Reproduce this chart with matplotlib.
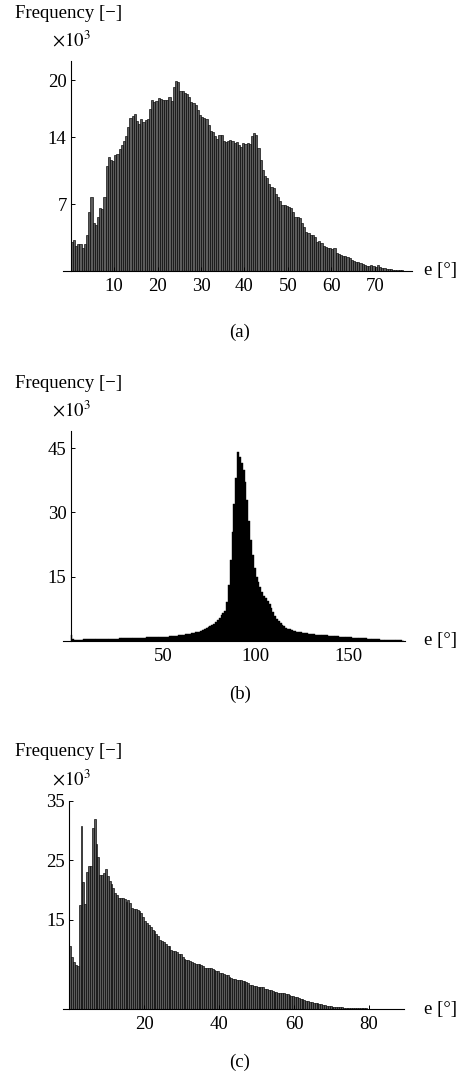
import numpy as np
import matplotlib
matplotlib.use("Agg")
import matplotlib.pyplot as plt

plt.rcParams['font.family'] = ['Liberation Serif', 'DejaVu Serif']
plt.rcParams['mathtext.fontset'] = 'stix'

# (a) histogram, 0.5 degree bins, values in thousands
freq_a = [3.07, 3.2, 2.62, 2.8, 2.85, 2.45, 2.8, 3.78, 6.2, 7.73, 5.0, 4.83, 5.7, 6.57, 6.45, 7.8,
          11.05, 11.9, 11.65, 11.5, 12.17, 12.3, 12.77, 13.2, 13.57, 14.1, 15.1, 16.0, 16.26, 16.5,
          15.7, 15.4, 15.9, 15.6, 15.85, 15.9, 16.97, 17.87, 17.7, 17.8, 18.1, 18.0, 17.87, 17.9,
          17.87, 18.2, 17.8, 19.27, 19.87, 19.8, 18.9, 18.85, 18.7,
          18.5, 18.2, 17.7, 17.6, 17.35, 16.9, 16.3, 16.1, 16.05, 15.95, 15.25, 14.7, 14.6, 14.1,
          13.8, 14.27, 14.2, 13.57, 13.5, 13.57, 13.75, 13.6, 13.4, 13.5, 13.2, 13.0, 13.4, 13.3,
          13.4, 13.35, 14.1, 14.5, 14.27, 12.87, 11.65, 10.6, 9.97, 9.73, 9.13, 8.78, 8.7, 8.08,
          7.73, 7.38, 6.93, 6.9, 6.85, 6.68, 6.65, 6.2, 5.63, 5.63,
          5.6, 5.0, 4.65, 4.06, 4.03, 3.78, 3.74, 3.6, 3.07, 3.1, 2.97, 2.62, 2.48, 2.4, 2.45,
          2.27, 2.4, 1.86, 1.8, 1.68, 1.6, 1.6, 1.43, 1.33, 1.15, 1.1, 0.98, 0.9, 0.8, 0.75,
          0.63, 0.55, 0.55, 0.63, 0.52, 0.45, 0.63, 0.45, 0.28, 0.28, 0.2, 0.2, 0.17, 0.15,
          0.15, 0.12, 0.12, 0.1]

# (b) histogram, 1 degree bins
freq_b = [1.3, 0.4, 0.35, 0.35, 0.35, 0.35, 0.35, 0.4, 0.4, 0.4,
          0.4, 0.4, 0.4, 0.4, 0.45, 0.45, 0.45, 0.45, 0.5, 0.5,
          0.5, 0.5, 0.5, 0.55, 0.55, 0.55, 0.6, 0.6, 0.6, 0.6,
          0.65, 0.65, 0.65, 0.7, 0.7, 0.7, 0.75, 0.75, 0.8, 0.8,
          0.8, 0.85, 0.85, 0.9, 0.9, 0.9, 0.95, 1.0, 1.0, 1.05,
          1.0, 1.0, 1.05, 1.1, 1.1, 1.15, 1.2, 1.25, 1.3, 1.35,
          1.4, 1.5, 1.55, 1.6, 1.7, 1.8, 1.9, 2.0, 2.1, 2.2,
          2.4, 2.6, 2.8, 3.0, 3.2, 3.4, 3.7, 4.0, 4.4, 4.9,
          5.4, 6.0, 6.6, 7.0, 9.0, 13.0, 19.0, 25.5, 32.0, 38.0,
          44.2, 43.0, 41.5, 40.0, 37.0, 33.0, 28.0, 23.5, 20.0, 17.0,
          15.0, 13.8, 12.6, 11.5, 10.6, 10.0, 9.4, 8.7, 7.8, 6.8,
          5.9, 5.2, 4.6, 4.2, 3.8, 3.4, 3.1, 2.9, 2.7, 2.5,
          2.4, 2.3, 2.2, 2.1, 2.0, 1.9, 1.85, 1.8, 1.7, 1.65,
          1.6, 1.55, 1.5, 1.45, 1.4, 1.4, 1.35, 1.3, 1.3, 1.25,
          1.2, 1.2, 1.15, 1.1, 1.1, 1.05, 1.0, 1.0, 0.95, 0.9,
          0.9, 0.85, 0.8, 0.8, 0.75, 0.7, 0.7, 0.65, 0.6, 0.6,
          0.55, 0.5, 0.5, 0.45, 0.45, 0.4, 0.4, 0.35, 0.35, 0.3,
          0.3, 0.3, 0.25, 0.25, 0.2, 0.2, 0.2, 0.15, 0.15, 0.1]

# (c) histogram, 0.5 degree bins
freq_c = [10.6, 8.8, 7.9, 7.4, 7.2,
          17.47, 30.8, 21.35, 17.7, 23.1, 24.05, 24.05, 30.4, 31.9, 27.8, 25.5, 22.5, 22.5, 22.8,
          23.5, 22.36, 21.5, 20.96, 20.3, 19.56, 19.1, 18.6, 18.6, 18.7, 18.5, 18.0, 18.3, 17.9,
          17.0, 16.85, 16.9, 16.7, 16.46, 16.2, 15.45, 14.8, 14.5, 14.2, 13.76, 13.37, 13.1, 12.7,
          12.25, 11.57, 11.5, 11.3, 11.0, 10.7, 10.6, 10.0, 9.8,
          9.7, 9.6, 9.33, 9.2, 8.77, 8.5, 8.3, 8.3, 8.13, 7.9, 7.75, 7.6, 7.6, 7.6, 7.47, 7.2,
          7.0, 6.9, 6.9, 7.0, 6.74, 6.63, 6.5, 6.35, 6.17, 6.17, 5.9, 5.8, 5.7, 5.5, 5.3, 5.1,
          5.05, 4.95, 4.95, 4.95, 4.8, 4.67, 4.55, 4.38, 4.1, 4.1, 3.95, 3.95, 3.7, 3.7, 3.7,
          3.8, 3.37, 3.37, 3.25, 3.25, 3.14, 2.98, 2.98, 2.8, 2.8, 2.69, 2.69, 2.57, 2.57,
          2.45, 2.3, 2.3, 2.12, 2.12, 1.96, 1.74, 1.68, 1.57, 1.46, 1.4, 1.29, 1.18, 1.12, 1.0,
          1.0, 0.9, 0.84, 0.73, 0.73, 0.62, 0.56, 0.56, 0.45, 0.45, 0.45, 0.34, 0.34, 0.34,
          0.28, 0.28, 0.28, 0.28, 0.22, 0.22, 0.17, 0.17,
          0.17, 0.15, 0.15, 0.15, 0.14, 0.13, 0.13, 0.12, 0.12, 0.11, 0.1, 0.1, 0.1, 0.09,
          0.09, 0.08, 0.08, 0.08, 0.07, 0.07, 0.06, 0.06, 0.06, 0.05, 0.05, 0.05]

ticks_a = [10, 20, 30, 40, 50, 60, 70]
yticks_a = [7, 14, 20]
ticks_b = [50, 100, 150]
yticks_b = [15, 30, 45]
ticks_c = [20, 40, 60, 80]
yticks_c = [15, 25, 35]

W, H = 462, 1087
fig = plt.figure(figsize=(W / 100, H / 100), dpi=100)


def box(left, top, right, bottom):
    return [left / W, (H - bottom) / H, (right - left) / W, (bottom - top) / H]


def style(ax, xlim, ylim, xt, yt):
    ax.set_xlim(*xlim)
    ax.set_ylim(*ylim)
    for s in ['top', 'right']:
        ax.spines[s].set_visible(False)
    ax.spines['left'].set_position(('data', 0))
    for s in ['left', 'bottom']:
        ax.spines[s].set_linewidth(0.8)
    ax.set_xticks(xt)
    ax.set_yticks(yt)
    ax.tick_params(direction='in', length=3, width=0.7, labelsize=13.5)
    ax.tick_params(axis='x', pad=5)
    ax.tick_params(axis='y', pad=3)


def labels(top, bottom, right, tag, tag_y):
    fig.text(15 / W, 1 - top / H, 'Frequency [\u2212]', fontsize=13.5, va='center', ha='left')
    fig.text(52 / W, 1 - (top + 27) / H, r'$\times 10^3$', fontsize=13.5, va='center', ha='left')
    fig.text(424 / W, 1 - bottom / H, 'e [\u00b0]', fontsize=13.5, va='center', ha='left')
    fig.text(240 / W, 1 - tag_y / H, tag, fontsize=13.5, va='center', ha='center')


bar_grey = '#5c5c5c'

# panel (a)
ax1 = fig.add_axes(box(63, 61, 412, 271))
xa = np.arange(len(freq_a)) * 0.5
ax1.bar(xa, freq_a, width=0.5, align='edge', color=bar_grey, edgecolor='black', linewidth=0.45)
style(ax1, (-1.8, 78.6), (0, 22), ticks_a, yticks_a)
labels(13, 271, 412, '(a)', 332)

# panel (b)
ax2 = fig.add_axes(box(63, 431, 405, 641))
xb = np.arange(len(freq_b)) * 1.0
ax2.bar(xb, freq_b, width=1.0, align='edge', color='black', edgecolor='black', linewidth=0.3)
style(ax2, (-4.05, 180.6), (0, 49), ticks_b, yticks_b)
labels(383, 641, 405, '(b)', 694)

# panel (c)
ax3 = fig.add_axes(box(63.3, 800.7, 404.3, 1009.3))
xc = np.arange(len(freq_c)) * 0.5
ax3.bar(xc, freq_c, width=0.5, align='edge', color=bar_grey, edgecolor='black', linewidth=0.45)
style(ax3, (-1.6, 89.4), (0, 35), ticks_c, yticks_c)
labels(752, 1009.3, 404.3, '(c)', 1062)

fig.savefig('out.png', dpi=100)
